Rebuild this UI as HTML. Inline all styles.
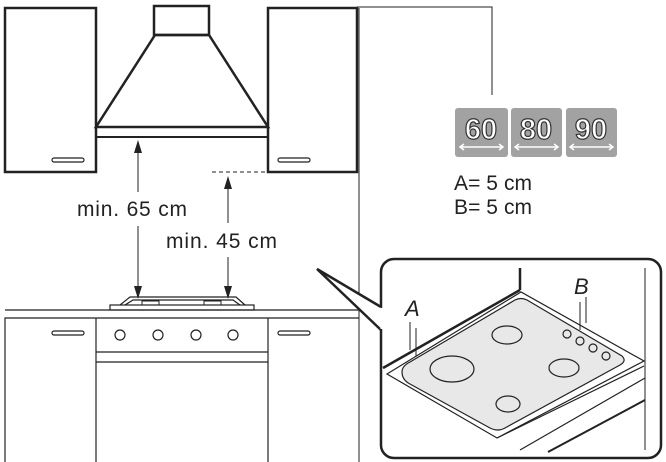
<!DOCTYPE html>
<html><head><style>body{margin:0;background:#fff}svg{display:block}text{font-family:"Liberation Sans",sans-serif}</style></head><body>
<svg width="666" height="462" viewBox="0 0 666 462" xmlns="http://www.w3.org/2000/svg">
<g fill="none" stroke="#222">
<rect x="5" y="8" width="91" height="164" stroke-width="2.5"/>
<rect x="268" y="8" width="89" height="164" stroke-width="2.5"/>
<rect x="52" y="158" width="32" height="4" rx="2" stroke-width="1.2"/>
<rect x="278" y="158" width="32" height="4" rx="2" stroke-width="1.2"/>
<rect x="154" y="6" width="55" height="29" stroke-width="2.5"/>
<path d="M155,35 L209,35 L268,127 L96,127 Z" stroke-width="2.5"/>
<rect x="96" y="127" width="172" height="10" stroke-width="2"/>
<path d="M359,8 L359,462 M357,7 L492,7 L492,95" stroke-width="1"/>
<line x1="138" y1="150" x2="138" y2="192" stroke-width="1"/>
<line x1="138" y1="226" x2="138" y2="288" stroke-width="1"/>
<line x1="212" y1="172" x2="268" y2="172" stroke-width="1" stroke-dasharray="4,3"/>
<line x1="228" y1="185" x2="228" y2="223" stroke-width="1"/>
<line x1="228" y1="257" x2="228" y2="288" stroke-width="1"/>
<rect x="110" y="305" width="144" height="5" stroke-width="1.2"/>
<path d="M120,305 L130,297 L236,297 L245,305 M125,305 L133,300 L233,300 L240,305" stroke-width="1.2"/>
<rect x="142" y="301" width="17" height="4" stroke-width="1"/>
<rect x="204" y="301" width="17" height="4" stroke-width="1"/>
<line x1="5" y1="310" x2="359" y2="310" stroke-width="1.2"/>
<path d="M5,462 L5,318 L359,318 M96,318 L96,462 M268,318 L268,462 M96,352 L268,352 M96,362 L268,362" stroke-width="1.2"/>
<rect x="52" y="331" width="32" height="4" rx="2" stroke-width="1.2"/>
<rect x="278" y="331" width="32" height="4" rx="2" stroke-width="1.2"/>
<circle cx="120" cy="335" r="5" stroke-width="1.2"/><circle cx="158" cy="335" r="5" stroke-width="1.2"/><circle cx="196" cy="335" r="5" stroke-width="1.2"/><circle cx="233" cy="335" r="5" stroke-width="1.2"/>
<rect x="381" y="259" width="280" height="199" rx="13" stroke-width="2.5" fill="#fff"/>
<path d="M381,307 L317,269 L381,330" stroke-width="2.5" fill="#fff"/>
<line x1="382" y1="308" x2="382" y2="329" stroke="#fff" stroke-width="3"/>
<path d="M520,268 L520,290 M383,368 L520,290" stroke-width="2.5"/>
<path d="M645,268 L645,450" stroke-width="1"/>
<path d="M387,374 L521,292 L644,361 L497,438 Z" stroke-width="1.2" fill="#fff"/>
<path d="M402,372 Q402,366 410,362 L515,300 Q521,297 527,300 L622,356 Q627,361 620,365 L505,428 Q498,432 490,428 L410,384 Q402,380 402,372 Z" stroke-width="1.2" fill="#e8e8e8"/>
<path d="M497,438 L644,366 M520,450 L645,378" stroke-width="1.2"/>
<path d="M548,452 L645,400" stroke-width="2"/>
<ellipse cx="452" cy="369" rx="22" ry="13" stroke-width="1.2"/>
<ellipse cx="507" cy="335" rx="15" ry="9" stroke-width="1.2"/>
<ellipse cx="564" cy="368" rx="15" ry="9" stroke-width="1.2"/>
<ellipse cx="508" cy="404" rx="12" ry="8" stroke-width="1.2"/>
<circle cx="567" cy="334" r="4" stroke-width="1.2"/><circle cx="580" cy="341" r="4" stroke-width="1.2"/><circle cx="593" cy="348" r="4" stroke-width="1.2"/><circle cx="606" cy="356" r="4" stroke-width="1.2"/>
<path d="M410,350 L410,322 M416,356 L416,328" stroke-width="1"/>
<path d="M580,330 L580,302 M586,323 L586,297" stroke-width="1"/>
</g>
<g fill="#222">
<path d="M138,140 L134,153 L142,153 Z"/>
<path d="M138,299 L134,286 L142,286 Z"/>
<path d="M228,176 L224,189 L232,189 Z"/>
<path d="M228,299 L224,286 L232,286 Z"/>
</g>
<g font-size="21" fill="#222">
<text x="77" y="216" textLength="110">min. 65 cm</text>
<text x="166" y="248" textLength="111">min. 45 cm</text>
<text x="454" y="190" textLength="78">A= 5 cm</text>
<text x="454" y="214" textLength="78">B= 5 cm</text>
</g>
<g font-size="22" fill="#222" font-style="italic">
<text x="405" y="316">A</text>
<text x="574" y="294">B</text>
</g>
<g>
<rect x="455" y="108" width="53" height="49" rx="3" fill="#a2a2a2"/>
<rect x="511" y="108" width="51" height="49" rx="3" fill="#a2a2a2"/>
<rect x="566" y="108" width="51" height="49" rx="3" fill="#a2a2a2"/>
<g font-size="29" font-weight="bold" fill="#fff" stroke="#333" stroke-width="1.2" text-anchor="middle">
<text x="481" y="139">60</text><text x="536" y="139">80</text><text x="591" y="139">90</text>
</g>
<g stroke="#fff" stroke-width="1.5" fill="none">
<path d="M460,147 L503,147 M464,144 L460,147 L464,150 M499,144 L503,147 L499,150"/>
<path d="M515,147 L558,147 M519,144 L515,147 L519,150 M554,144 L558,147 L554,150"/>
<path d="M570,147 L613,147 M574,144 L570,147 L574,150 M609,144 L613,147 L609,150"/>
</g>
</g>
</svg>
</body></html>
